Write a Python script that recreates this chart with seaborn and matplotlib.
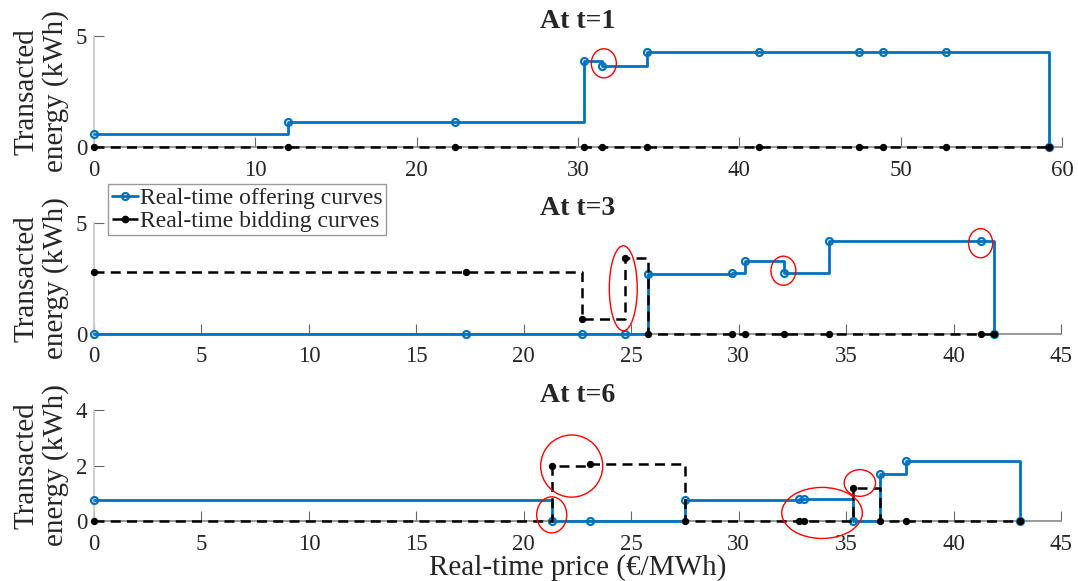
import numpy as np
import pandas as pd
import matplotlib
matplotlib.use("Agg")
import matplotlib.pyplot as plt
from matplotlib.patches import Ellipse
from matplotlib.lines import Line2D
import seaborn as sns

# ---- data ----
t1_price = [0, 12.0, 22.4, 30.4, 31.5, 34.3, 41.2, 47.4, 48.9, 52.8, 59.2]
t1_offer = [0.59, 1.14, 1.14, 3.89, 3.65, 4.28, 4.28, 4.28, 4.28, 4.28, 0]
t1_bid = [0, 0, 0, 0, 0, 0, 0, 0, 0, 0, 0]

t3_price = [0, 17.3, 22.7, 24.7, 25.8, 29.7, 30.3, 32.1, 34.2, 41.3, 41.9]
t3_offer = [0, 0, 0, 0, 2.69, 2.75, 3.30, 2.73, 4.19, 4.19, 0]
t3_bid = [2.79, 2.79, 0.66, 3.44, 0, 0, 0, 0, 0, 0, 0]

t6_price = [0, 21.3, 23.1, 27.5, 32.8, 33.05, 35.3, 36.6, 37.8, 43.1]
t6_offer = [0.77, 0, 0, 0.77, 0.79, 0.79, 0, 1.70, 2.17, 0]
t6_bid = [0, 1.98, 2.06, 0, 0, 0, 1.18, 0, 0, 0]

titles = ["At t=1", "At t=3", "At t=6"]
xlims = [60, 45, 45]
ylims = [5, 5, 4]
yticks = [[0, 5], [0, 5], [0, 2, 4]]

# red highlight ellipses: (panel, x centre, y centre, width, height) in data units
hl_panel = [0, 1, 1, 1, 2, 2, 2, 2]
hl_x = [31.6, 24.63, 32.08, 41.26, 22.23, 21.30, 33.88, 35.64]
hl_y = [3.77, 2.06, 2.85, 4.09, 1.98, 0.22, 0.29, 1.37]
hl_w = [1.55, 1.30, 1.16, 1.12, 2.89, 1.40, 3.75, 1.46]
hl_h = [1.31, 3.83, 1.31, 1.31, 2.24, 1.30, 1.84, 0.96]

BLUE = "#0072BD"
DASH = (0, (4, 2.5))

sns.set_theme(style="white")
plt.rcParams["font.family"] = ["Liberation Serif", "DejaVu Serif"]

fig = plt.figure(figsize=(10.78, 5.81), dpi=100)
W, H = 1078, 581
# axes boxes in pixels: left, top, right, bottom
boxes = [(94, 36, 1062, 147), (94, 223, 1061, 334), (94, 410, 1061, 521)]
axes = [fig.add_axes([l / W, (H - b) / H, (r - l) / W, (b - t) / H]) for l, t, r, b in boxes]

panels = [(t1_price, t1_offer, t1_bid), (t3_price, t3_offer, t3_bid), (t6_price, t6_offer, t6_bid)]

for i, (ax, (px, off, bid)) in enumerate(zip(axes, panels)):
    df = pd.DataFrame({"price": px, "offer": off, "bid": bid})
    sns.lineplot(data=df, x="price", y="offer", ax=ax, estimator=None, sort=False,
                 drawstyle="steps-post", color=BLUE, linewidth=2, marker="o", markersize=5,
                 markerfacecolor="none", markeredgecolor=BLUE, markeredgewidth=1.6,
                 clip_on=False, zorder=3)
    sns.lineplot(data=df, x="price", y="bid", ax=ax, estimator=None, sort=False,
                 drawstyle="steps-post", color="black", linewidth=1.8, linestyle=DASH,
                 marker="o", markersize=4.5, markerfacecolor="black",
                 markeredgecolor="black", clip_on=False, zorder=4)
    ax.set_xlim(0, xlims[i])
    ax.set_ylim(0, ylims[i])
    ax.set_xticks(np.arange(0, xlims[i] + 1, 10 if xlims[i] == 60 else 5))
    ax.set_yticks(yticks[i])
    ax.set_xlabel("")
    ax.set_ylabel("Transacted\nenergy (kWh)", fontsize=21, labelpad=5, linespacing=1.12)
    ax.set_title(titles[i], fontsize=20, fontweight="bold", pad=6)
    for s in ["top", "right"]:
        ax.spines[s].set_visible(False)
    ax.spines["left"].set_color("#c8c8c8")
    ax.spines["bottom"].set_color("#8c8c8c")
    ax.tick_params(axis="both", direction="in", length=7, color="#666666", labelsize=16.5,
                   width=0.8, left=True, bottom=True)
    ax.tick_params(axis="x", pad=9)
    ax.tick_params(axis="y", pad=5)
    for k in range(len(hl_panel)):
        if hl_panel[k] == i:
            ax.add_patch(Ellipse((hl_x[k], hl_y[k]), hl_w[k], hl_h[k], fill=False,
                                 edgecolor="red", lw=1.0, clip_on=False, zorder=5))

axes[2].set_xlabel("Real-time price (€/MWh)", fontsize=21, labelpad=0)

handles = [
    Line2D([], [], color=BLUE, lw=2, marker="o", markersize=5, markerfacecolor="none",
           markeredgewidth=1.6),
    Line2D([], [], color="black", lw=1.8, linestyle=DASH, marker="o", markersize=4.5),
]
fig.legend(handles, ["Real-time offering curves", "Real-time bidding curves"],
           loc="upper left", bbox_to_anchor=(108 / W, 1 - 184 / H), fontsize=17,
           frameon=True, fancybox=False, edgecolor="#9a9a9a", framealpha=1,
           handlelength=1.1, handletextpad=0.1, borderpad=0.15, labelspacing=0.05,
           borderaxespad=0)

fig.savefig("out.png", dpi=100)
